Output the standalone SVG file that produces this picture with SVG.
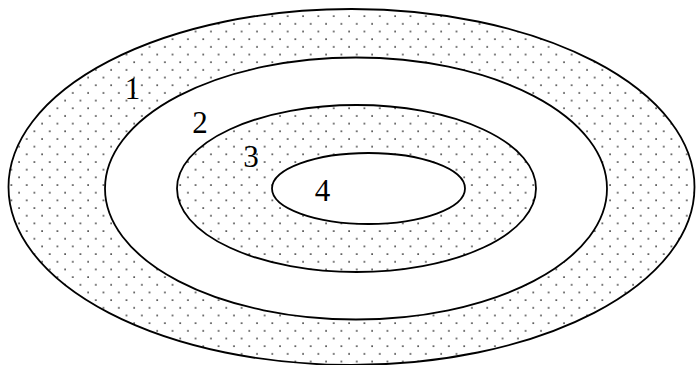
<svg xmlns="http://www.w3.org/2000/svg" width="696" height="365" viewBox="0 0 696 365">
  <defs>
    <pattern id="dots" patternUnits="userSpaceOnUse" x="25.7" y="153.3" width="15.35" height="15.35">
      <rect x="0.3" y="0.3" width="1.5" height="1.5" fill="#222"/>
      <rect x="7.97" y="7.97" width="1.5" height="1.5" fill="#222"/>
    </pattern>
  </defs>
  <style>
    .ring { stroke: #000; stroke-width: 1.8; }
    .dotted { fill: url(#dots); }
    .blank { fill: #fff; }
    .lbl { font-family: "Liberation Serif", "Times New Roman", serif; font-size: 31px; fill: #000; text-anchor: middle; }
  </style>
  <rect width="696" height="365" fill="#fff"/>
  <g id="region1">
    <ellipse class="ring dotted" cx="351.5" cy="187" rx="343" ry="178"/>
    <text class="lbl" x="132.5" y="99">1</text>
  </g>
  <g id="region2">
    <ellipse class="ring blank" cx="356" cy="188.5" rx="251" ry="131"/>
    <text class="lbl" x="200" y="133">2</text>
  </g>
  <g id="region3">
    <ellipse class="ring dotted" cx="356.5" cy="188.5" rx="179.5" ry="83.5"/>
    <text class="lbl" x="251" y="167">3</text>
  </g>
  <g id="region4">
    <ellipse class="ring blank" cx="368.5" cy="188.5" rx="96.5" ry="35.5"/>
    <text class="lbl" x="322.5" y="201">4</text>
  </g>
  <g id="connectors"/>
</svg>
